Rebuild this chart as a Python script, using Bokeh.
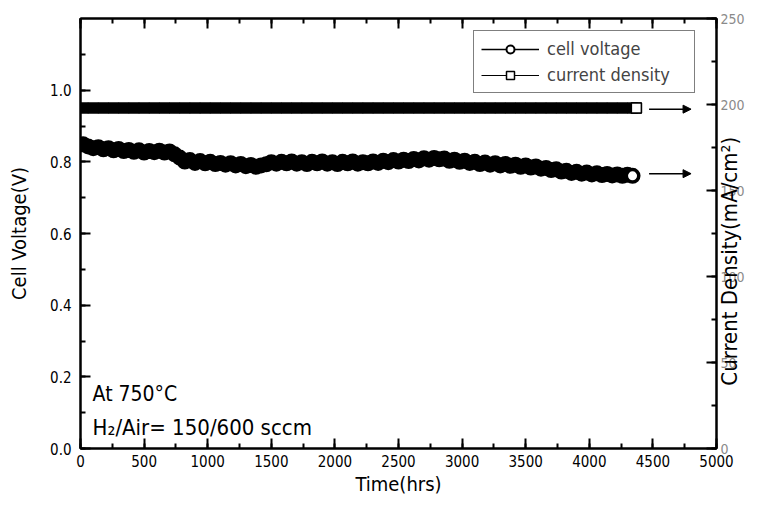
import math
from bokeh.plotting import figure
from bokeh.models import (Range1d, LinearAxis, SingleIntervalTicker, NumeralTickFormatter,
                          Legend, LegendItem, Label, Arrow, NormalHead, ColumnDataSource,
                          CustomJSTickFormatter)
from bokeh.embed import file_html
from bokeh.resources import INLINE

FONT = "DejaVu Sans Condensed, Roboto, sans-serif"

# ---- data ----
time_v = [20, 60, 100, 140, 180, 220, 260, 300, 340, 380, 420, 460, 500, 540, 580, 620, 660, 700,
          740, 780, 820, 860, 900, 940, 980, 1020, 1060, 1100, 1140, 1180, 1220, 1260, 1300, 1340,
          1380, 1420, 1460, 1500, 1540, 1580, 1620, 1660, 1700, 1740, 1780, 1820, 1860, 1900, 1940,
          1980, 2020, 2060, 2100, 2140, 2180, 2220, 2260, 2300, 2340, 2380, 2420, 2460, 2500, 2540,
          2580, 2620, 2660, 2700, 2740, 2780, 2820, 2860, 2900, 2940, 2980, 3020, 3060, 3100, 3140,
          3180, 3220, 3260, 3300, 3340, 3380, 3420, 3460, 3500, 3540, 3580, 3620, 3660, 3700, 3740,
          3780, 3820, 3860, 3900, 3940, 3980, 4020, 4060, 4100, 4140, 4180, 4220, 4260, 4300, 4340]
voltage = [0.849, 0.843, 0.838, 0.841, 0.835, 0.838, 0.832, 0.836, 0.830, 0.833, 0.828, 0.832,
           0.826, 0.830, 0.827, 0.831, 0.826, 0.829, 0.821, 0.812, 0.801, 0.805, 0.797, 0.802,
           0.796, 0.800, 0.794, 0.797, 0.792, 0.796, 0.790, 0.794, 0.788, 0.791, 0.786, 0.790,
           0.793, 0.799, 0.795, 0.800, 0.796, 0.801, 0.795, 0.799, 0.794, 0.800, 0.796, 0.801,
           0.795, 0.799, 0.794, 0.800, 0.796, 0.801, 0.795, 0.799, 0.796, 0.801, 0.797, 0.803,
           0.799, 0.805, 0.801, 0.806, 0.802, 0.808, 0.804, 0.810, 0.806, 0.811, 0.807, 0.809,
           0.803, 0.806, 0.800, 0.803, 0.797, 0.800, 0.794, 0.798, 0.792, 0.796, 0.790, 0.794,
           0.789, 0.792, 0.786, 0.790, 0.784, 0.787, 0.781, 0.783, 0.777, 0.779, 0.773, 0.775,
           0.769, 0.772, 0.767, 0.770, 0.765, 0.768, 0.763, 0.766, 0.762, 0.765, 0.761, 0.764,
           0.761]

time_c = [20, 100, 180, 260, 340, 420, 500, 580, 660, 740, 820, 900, 980, 1060, 1140, 1220, 1300,
          1380, 1460, 1540, 1620, 1700, 1780, 1860, 1940, 2020, 2100, 2180, 2260, 2340, 2420, 2500,
          2580, 2660, 2740, 2820, 2900, 2980, 3060, 3140, 3220, 3300, 3380, 3460, 3540, 3620, 3700,
          3780, 3860, 3940, 4020, 4100, 4180, 4260, 4340, 4370]
current = [198, 198, 198, 198, 198, 198, 198, 198, 198, 198, 198, 198, 198, 198, 198, 198, 198,
           198, 198, 198, 198, 198, 198, 198, 198, 198, 198, 198, 198, 198, 198, 198, 198, 198,
           198, 198, 198, 198, 198, 198, 198, 198, 198, 198, 198, 198, 198, 198, 198, 198, 198,
           198, 198, 198, 198, 198]

x_label = "Time(hrs)"
y_label = "Cell Voltage(V)"
y2_label = "Current Density(mA/cm\u00b2)"
legend_labels = ["cell voltage", "current density"]
note1 = "At 750\u00b0C"
note2 = "H\u2082/Air= 150/600 sccm"

p = figure(width=757, height=498, output_backend="svg", toolbar_location=None,
           x_range=Range1d(0, 5000), y_range=Range1d(0, 1.2),
           min_border_left=80, min_border_right=40, min_border_top=18, min_border_bottom=48)
p.extra_y_ranges = {"cd": Range1d(0, 250)}
p.xgrid.visible = False
p.ygrid.visible = False
p.outline_line_color = "black"
p.outline_line_width = 2
p.background_fill_color = "white"
p.border_fill_color = "white"


def style_axis(ax, color="black", size="15px"):
    ax.axis_line_width = 2
    ax.axis_line_color = "black"
    ax.major_tick_in = 10
    ax.major_tick_out = 0
    ax.minor_tick_in = 5
    ax.minor_tick_out = 0
    ax.major_tick_line_width = 2
    ax.minor_tick_line_width = 2
    ax.major_label_text_font = FONT
    ax.major_label_text_font_size = size
    ax.major_label_text_color = color
    ax.axis_label_text_font = FONT
    ax.axis_label_text_font_size = "20px"
    ax.axis_label_text_font_style = "normal"
    ax.axis_label_text_color = "black"


xa = p.xaxis[0]
xa.ticker = SingleIntervalTicker(interval=500, num_minor_ticks=2)
xa.axis_label = x_label
style_axis(xa)
xa.major_label_standoff = 6
xa.axis_label_standoff = 2

ya = p.yaxis[0]
ya.ticker = SingleIntervalTicker(interval=0.2, num_minor_ticks=2)
ya.formatter = NumeralTickFormatter(format="0.0")
ya.axis_label = y_label
style_axis(ya)
ya.major_label_standoff = 9
ya.axis_label_standoff = 16

ra = LinearAxis(y_range_name="cd", ticker=SingleIntervalTicker(interval=50, num_minor_ticks=2))
style_axis(ra, color="#8a8a8a", size="14px")
ra.major_label_standoff = 4
ra.axis_label_text_font_size = "22px"
ra.axis_label_orientation = math.pi / 2          # read bottom-to-top, as in the original
ra.axis_label_standoff = -18                     # overlaps the tick labels, as in the original
try:
    ra.axis_label_align = "start"
    ra.axis_label = "\u00a0" * 10 + y2_label
except Exception:
    ra.axis_label = y2_label
p.add_layout(ra, "right")

ta = LinearAxis(ticker=SingleIntervalTicker(interval=500, num_minor_ticks=2),
                formatter=CustomJSTickFormatter(code="return ''"))
style_axis(ta)
ta.major_label_standoff = 0
p.add_layout(ta, "above")

# ---- data marks ----
src_v = ColumnDataSource(dict(t=time_v, v=voltage))
src_c = ColumnDataSource(dict(t=time_c, c=current))
p.line("t", "v", source=src_v, line_color="black", line_width=2)
p.scatter("t", "v", source=src_v, marker="circle", size=14, fill_color="black",
          line_color="black", line_width=2)
p.scatter(x=time_v[-1:], y=voltage[-1:], marker="circle", size=11, fill_color="white",
          line_color="black", line_width=2)

p.line("t", "c", source=src_c, y_range_name="cd", line_color="black", line_width=2)
p.scatter("t", "c", source=src_c, y_range_name="cd", marker="square", size=10,
          fill_color="black", line_color="black", line_width=1.5)
p.scatter(x=time_c[-1:], y=current[-1:], y_range_name="cd", marker="square", size=10,
          fill_color="white", line_color="black", line_width=1.5)

# arrows pointing to the axes
p.add_layout(Arrow(end=NormalHead(size=8, fill_color="black", line_color="black"),
                   x_start=4470, x_end=4800, y_start=voltage[-1] + 0.006, y_end=voltage[-1] + 0.006,
                   line_width=1.5, line_color="black"))
p.add_layout(Arrow(end=NormalHead(size=8, fill_color="black", line_color="black"),
                   x_start=4470, x_end=4800, y_start=current[-1] - 0.7, y_end=current[-1] - 0.7,
                   y_range_name="cd", line_width=1.5, line_color="black"))

# legend (off-range renderers that only supply the legend glyphs)
lv = p.line([-900, -800], [-1, -1], line_color="black", line_width=1.5)
sv = p.scatter([-900], [-1], marker="circle", size=9, fill_color="white", line_color="black",
               line_width=2)
lc = p.line([-900, -800], [-1, -1], line_color="black", line_width=1)
sc = p.scatter([-900], [-1], marker="square", size=8, fill_color="white", line_color="black",
               line_width=1.5)
legend = Legend(items=[LegendItem(label=legend_labels[0], renderers=[lv, sv]),
                       LegendItem(label=legend_labels[1], renderers=[lc, sc])],
                location=(393, 355), glyph_width=58, glyph_height=20, spacing=5,
                padding=7, margin=0, label_text_font=FONT, label_text_font_size="18px",
                label_standoff=8, label_width=140, border_line_color="black",
                border_line_width=1.5, background_fill_alpha=1)
p.add_layout(legend, "center")

p.add_layout(Label(x=95, y=0.153, text=note1, text_font=FONT, text_font_size="21px",
                   text_color="black", text_baseline="alphabetic"))
p.add_layout(Label(x=95, y=0.060, text=note2, text_font=FONT, text_font_size="22px",
                   text_color="black", text_baseline="alphabetic"))

open("out.html", "w").write(file_html(p, INLINE))
